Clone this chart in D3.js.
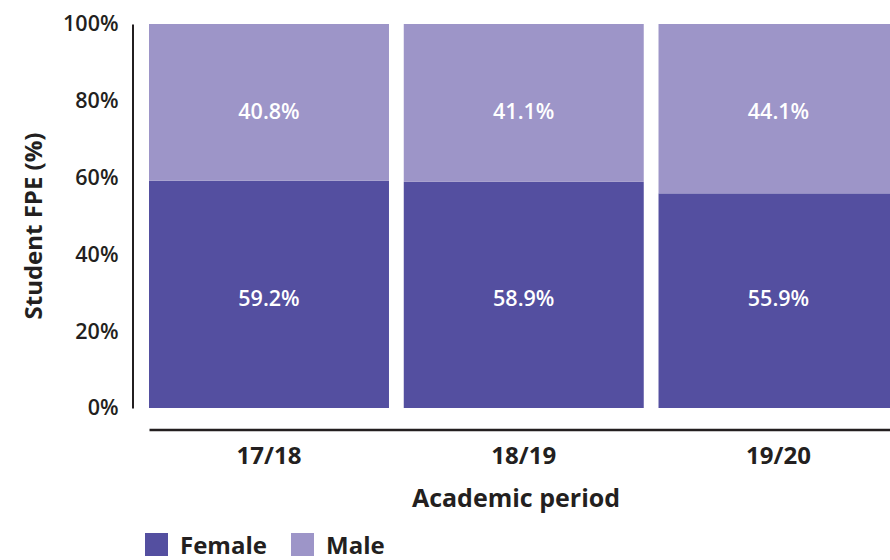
<!DOCTYPE html>
<html>
<head>
<meta charset="utf-8">
<script src="https://cdn.jsdelivr.net/npm/d3@7"></script>
<style>
  html, body { margin: 0; padding: 0; background: #fff; }
  svg { display: block; font-family: "Open Sans", sans-serif; }
</style>
</head>
<body>
<svg id="chart" width="890" height="560"></svg>
<script>
// Student FPE split by sex, per academic period
const periods = ["17/18", "18/19", "19/20"];
const female = [59.2, 58.9, 55.9];
const male = [40.8, 41.1, 44.1];
const yTicks = [0, 20, 40, 60, 80, 100];
const seriesNames = ["Female", "Male"];
const seriesColors = ["#544fa0", "#9d95c8"];

const svg = d3.select("#chart");
const ink = "#231f20";

const y = d3.scaleLinear().domain([0, 100]).range([408, 24]);
const x = d3.scaleBand().domain(periods).range([149, 898.5]).paddingInner(0.058).paddingOuter(0);

const rows = periods.map((p, i) => ({ period: p, Female: female[i], Male: male[i] }));
const stacked = d3.stack().keys(seriesNames)(rows);
const color = d3.scaleOrdinal().domain(seriesNames).range(seriesColors);

// Stacked bars
const layers = svg.append("g").selectAll("g").data(stacked).join("g")
  .attr("fill", d => color(d.key));
layers.selectAll("rect").data(d => d).join("rect")
  .attr("x", d => x(d.data.period))
  .attr("width", x.bandwidth())
  .attr("y", d => y(d[1]))
  .attr("height", d => y(d[0]) - y(d[1]));

// Value labels, one row per series
const labelLevel = { Female: 28.5, Male: 77.3 };
svg.append("g").selectAll("g").data(stacked).join("g")
  .selectAll("text").data(d => d.map(v => ({ key: d.key, v })))
  .join("text")
  .attr("x", d => x(d.v.data.period) + x.bandwidth() / 2)
  .attr("y", d => y(labelLevel[d.key]))
  .attr("dy", "0.36em")
  .attr("text-anchor", "middle")
  .attr("fill", "#fff")
  .attr("font-size", 21.5)
  .attr("font-weight", 600)
  .text(d => d.v.data[d.key].toFixed(1) + "%");

// Y axis
const yAxis = svg.append("g").attr("transform", "translate(132.5,0)")
  .call(d3.axisLeft(y).tickValues(yTicks).tickSize(0).tickPadding(14).tickFormat(d => d + "%"));
yAxis.select(".domain").attr("stroke", ink).attr("stroke-width", 2);
yAxis.selectAll("text").attr("fill", ink).attr("font-size", 21.5).attr("font-weight", 600)
  .attr("font-family", "'Open Sans', sans-serif");

// X axis
const xAxis = svg.append("g").attr("transform", "translate(0,429.5)")
  .call(d3.axisBottom(x).tickSize(0).tickPadding(17));
xAxis.select(".domain").attr("stroke", ink).attr("stroke-width", 2.5);
xAxis.selectAll("text").attr("fill", ink).attr("font-size", 24).attr("font-weight", 700)
  .attr("font-family", "'Open Sans', sans-serif");

// Axis titles
svg.append("text")
  .attr("x", 516).attr("y", 507)
  .attr("text-anchor", "middle")
  .attr("fill", ink).attr("font-size", 25).attr("font-weight", 700)
  .text("Academic period");

svg.append("text")
  .attr("transform", "translate(42,226) rotate(-90)")
  .attr("text-anchor", "middle")
  .attr("fill", ink).attr("font-size", 24).attr("font-weight", 700)
  .text("Student FPE (%)");

// Legend
const legend = svg.append("g").attr("transform", "translate(145,533)");
const legendX = [0, 146];
const items = legend.selectAll("g").data(seriesNames).join("g")
  .attr("transform", (d, i) => `translate(${legendX[i]},0)`);
items.append("rect").attr("width", 23).attr("height", 23).attr("fill", d => color(d));
items.append("text").attr("x", 35).attr("y", 12).attr("dy", "0.36em")
  .attr("fill", ink).attr("font-size", 24).attr("font-weight", 700)
  .text(d => d);
</script>
</body>
</html>
